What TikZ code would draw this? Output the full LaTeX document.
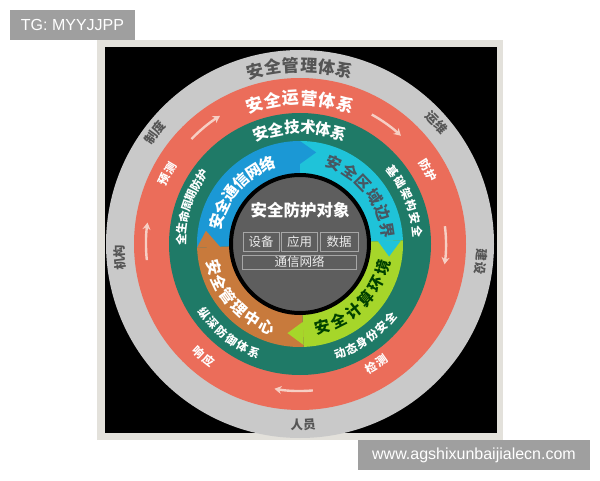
\documentclass[tikz,border=0pt]{standalone}
\usepackage{fontspec}
\setmainfont{Noto Sans CJK SC}
\newfontfamily\wmfont{Liberation Sans}
\usetikzlibrary{positioning,arrows.meta}

\definecolor{framegray}{HTML}{E3E1DB}
\definecolor{ringgray}{HTML}{C9C9C9}
\definecolor{ringred}{HTML}{EB6D5A}
\definecolor{ringteal}{HTML}{1F7A67}
\definecolor{segblue}{HTML}{1B98D5}
\definecolor{segcyan}{HTML}{1FC3D9}
\definecolor{seglime}{HTML}{A6D62A}
\definecolor{segorange}{HTML}{C87A3C}
\definecolor{coregray}{HTML}{5E5E5E}
\definecolor{labelgray}{HTML}{555555}
\definecolor{arrowpink}{HTML}{F6CFC4}
\definecolor{wmgray}{HTML}{9F9F9F}

% characters set one by one along an arc round (c)
\newcommand{\arctext}[6]{%
  \foreach \ch [count=\i from 0] in {#6}{%
    \pgfmathsetmacro{\ang}{#3+\i*#4}
    \node[#1, rotate=\ang+#5] at ([shift={(\ang:#2)}]c) {\ch};
  }}

\begin{document}
\begin{tikzpicture}[x=1pt,y=1pt,
    big label/.style={font=\fontsize{17}{17}\selectfont\bfseries, inner sep=0pt},
    seg label/.style={font=\fontsize{15.5}{16}\selectfont\bfseries, inner sep=0pt},
    mid label/.style={font=\fontsize{15.5}{16}\selectfont\bfseries, inner sep=0pt},
    small label/.style={font=\fontsize{11.5}{12}\selectfont\bfseries, inner sep=0pt},
    grey label/.style={font=\fontsize{12.5}{13}\selectfont\bfseries, inner sep=0pt, text=labelgray},
    obj box/.style={draw=gray!70, line width=0.6pt, text=white!92!black, inner sep=0pt,
                    font=\fontsize{12.5}{13}\selectfont},
    flow arrow/.style={draw=arrowpink, line width=2.4pt, -{Stealth[length=7pt,width=8pt]}},
    watermark/.style={fill=wmgray, text=white, inner sep=0pt, minimum height=30pt,
                      font=\wmfont\fontsize{16}{16}\selectfont}]
  \useasboundingbox (0,0) rectangle (600,480);

  % frame and background
  \fill[framegray] (97,40) rectangle (503,440);
  \fill[black] (105,47) rectangle (497,433);
  \coordinate (c) at (300,236);

  % rings
  \fill[ringgray] (c) circle[radius=194];
  \fill[ringred] (c) circle[radius=166];
  \fill[ringteal] (c) circle[radius=131];

  % four inner segments
  \fill[segblue]   (c) -- ([shift={(182:103)}]c) arc[start angle=182, end angle=90, radius=103] -- cycle;
  \fill[segcyan]   (c) -- ([shift={(90:103)}]c) arc[start angle=90, end angle=2, radius=103] -- cycle;
  \fill[seglime]   (c) -- ([shift={(2:103)}]c) arc[start angle=2, end angle=-88, radius=103] -- cycle;
  \fill[segorange] (c) -- ([shift={(-88:103)}]c) arc[start angle=-88, end angle=-178, radius=103] -- cycle;
  % arrow teeth
  \fill[segblue]   ([shift={(90:80)}]c) -- ([shift={(90:103)}]c) -- ([shift={(80:93)}]c) -- cycle;
  \fill[segcyan]   ([shift={(2:78)}]c) -- ([shift={(2:101)}]c) -- ([shift={(-8:90)}]c) -- cycle;
  \fill[seglime]   ([shift={(-88:78)}]c) -- ([shift={(-88:101)}]c) -- ([shift={(-98:90)}]c) -- cycle;
  \fill[segorange] ([shift={(182:80)}]c) -- ([shift={(182:103)}]c) -- ([shift={(172:95)}]c) -- cycle;

  % protected core
  \node[circle, fill=coregray, draw=black, line width=4pt, minimum size=138pt] (core) at (c) {};
  \node[text=white, font=\fontsize{16.5}{17}\selectfont\bfseries] (title) at (300,270) {安全防护对象};
  \node[obj box, minimum width=36pt, minimum height=19pt] (dev) at (261,238) {设备};
  \node[obj box, minimum width=36pt, minimum height=19pt, right=2pt of dev] (app) {应用};
  \node[obj box, minimum width=38pt, minimum height=19pt, right=2pt of app] (dat) {数据};
  \node[obj box, minimum width=114pt, minimum height=14pt, below=3pt of app] (net) {通信网络};

  % arrows in the red ring
  \draw[flow arrow] ([shift={(136:151)}]c) arc[start angle=136, end angle=122, radius=151];
  \draw[flow arrow] ([shift={(61:148)}]c) arc[start angle=61, end angle=47, radius=148];
  \draw[flow arrow] ([shift={(7:146)}]c) arc[start angle=7, end angle=-8, radius=146];
  \draw[flow arrow] ([shift={(-85:147)}]c) arc[start angle=-85, end angle=-100, radius=147];
  \draw[flow arrow] ([shift={(186:154)}]c) arc[start angle=186, end angle=172, radius=154];

  % ring titles
  \arctext{big label, text=labelgray}{179}{104.5}{-5.8}{-90}{安,全,管,理,体,系}
  \arctext{big label, text=white}{146}{108}{-7.2}{-90}{安,全,运,营,体,系}
  \arctext{mid label, text=white}{117}{109.5}{-7.8}{-90}{安,全,技,术,体,系}

  % inner segments
  \arctext{seg label, text=white}{86}{165}{-10.6}{-90}{安,全,通,信,网,络}
  \arctext{seg label, text=cyan!30!black}{88}{67}{-11.6}{-90}{安,全,区,域,边,界}
  \arctext{seg label, text=green!25!black}{86}{-75}{11.8}{90}{安,全,计,算,环,境}
  \arctext{seg label, text=white}{89}{195}{10.6}{90}{安,全,管,理,中,心}

  % teal ring
  \arctext{small label, text=white}{119}{178}{-5.5}{-90}{全,生,命,周,期,防,护}
  \arctext{small label, text=white}{118}{38}{-6.4}{-90}{基,础,架,构,安,全}
  \arctext{small label, text=white}{118}{216}{6.2}{90}{纵,深,防,御,体,系}
  \arctext{small label, text=white}{117}{-70}{6.1}{90}{动,态,身,份,安,全}

  % red ring
  \arctext{small label, text=white}{150}{154.5}{-5}{-90}{预,测}
  \arctext{small label, text=white}{148}{32.5}{-5}{-90}{防,护}
  \arctext{small label, text=white}{143}{-60}{5}{90}{检,测}
  \arctext{small label, text=white}{148}{227}{5}{90}{响,应}

  % grey ring
  \arctext{grey label}{183}{144.6}{-4}{-90}{制,度}
  \arctext{grey label}{183}{43.7}{-4}{-90}{运,维}
  \arctext{grey label}{182}{-3.6}{-4}{-90}{建,设}
  \arctext{grey label}{181}{186.4}{-4}{-90}{机,构}
  \arctext{grey label}{181}{-91}{4}{90}{人,员}

  % watermarks
  \node[watermark, minimum width=125pt] (tg) at (72.5,455) {TG: MYYJJPP};
  \node[watermark, minimum width=232pt] (site) at (474,25) {www.agshixunbaijialecn.com};
\end{tikzpicture}
\end{document}
